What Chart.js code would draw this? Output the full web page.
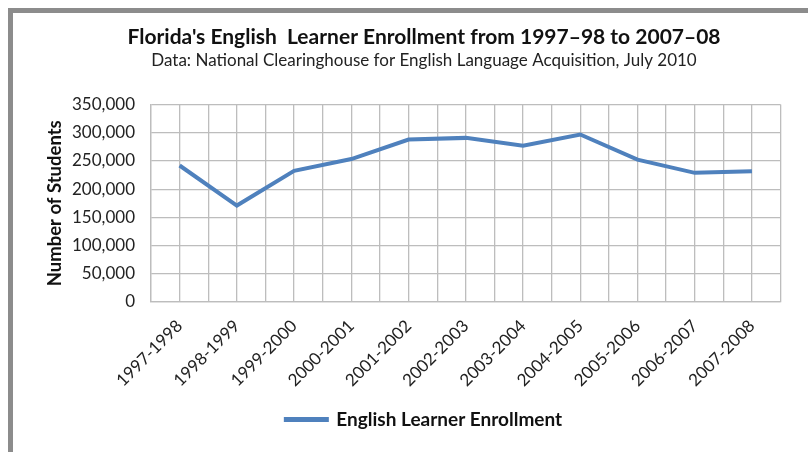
<!DOCTYPE html>
<html>
<head>
<meta charset="utf-8">
<script src="https://cdn.jsdelivr.net/npm/chart.js@4"></script>
<style>
  html, body { margin: 0; padding: 0; background: #fff; }
  #wrap { position: relative; width: 809px; height: 452px; }
  #frame {
    position: absolute; left: 8px; top: 8px; right: 1px; bottom: 0;
    border-top: 5px solid #8c8c8c; border-left: 5px solid #8c8c8c;
  }
  canvas { position: absolute; left: 0; top: 0; }
</style>
</head>
<body>
<div id="wrap">
  <div id="frame"></div>
  <canvas id="elChart" width="809" height="452"></canvas>
</div>
<script>
// school years on the x axis
const anos = ['1997-1998', '1998-1999', '1999-2000', '2000-2001', '2001-2002', '2002-2003',
  '2003-2004', '2004-2005', '2005-2006', '2006-2007', '2007-2008'];
// English learner enrollment
const matriculas = [242000, 171000, 232500, 253500, 288000, 291000, 277000, 297000, 252500, 229000, 232000];
// y axis ticks
const yMax = 350000;
const yPasso = 50000;

const fonte = "Lato, 'Open Sans', sans-serif";
const azul = '#4f81bd';

const pontos = matriculas.map((v, i) => ({ x: i, y: v }));

new Chart(document.getElementById('elChart'), {
  type: 'line',
  data: {
    datasets: [{
      label: 'English Learner Enrollment',
      data: pontos,
      borderColor: azul,
      backgroundColor: azul,
      borderWidth: 4,
      pointRadius: 0,
      tension: 0
    }]
  },
  options: {
    responsive: false,
    animation: false,
    layout: { padding: { top: 0, left: 53, right: 14, bottom: 13 } },
    plugins: {
      title: {
        display: true,
        text: "Florida's English  Learner Enrollment from 1997\u201398 to 2007\u201308",
        color: '#111',
        font: { family: fonte, size: 21, weight: 'bold' },
        padding: { top: 25, bottom: 0 }
      },
      subtitle: {
        display: true,
        text: 'Data: National Clearinghouse for English Language Acquisition, July 2010',
        color: '#222',
        font: { family: fonte, size: 17 },
        padding: { top: 0, bottom: 34 }
      },
      legend: {
        position: 'bottom',
        labels: {
          color: '#111',
          font: { family: fonte, size: 19, weight: 'bold' },
          boxWidth: 41,
          boxHeight: 1,
          padding: 10
        }
      },
      tooltip: { enabled: false }
    },
    scales: {
      x: {
        type: 'linear',
        min: -0.5,
        max: anos.length - 0.5,
        grid: { color: '#bdbdbd', lineWidth: 1.3, drawTicks: false },
        border: { color: '#bdbdbd', width: 1.3 },
        ticks: {
          stepSize: 0.5,
          autoSkip: false,
          maxRotation: 45,
          minRotation: 45,
          padding: 14,
          color: '#222',
          font: { family: fonte, size: 17 },
          callback: function (value) {
            return Number.isInteger(value) ? anos[value] : '';
          }
        },
        afterFit: function (scale) { scale.height = 98; }
      },
      y: {
        min: 0,
        max: yMax,
        grid: { color: '#bdbdbd', lineWidth: 1.3, drawTicks: false },
        border: { color: '#bdbdbd', width: 1.3 },
        ticks: {
          stepSize: yPasso,
          padding: 16,
          color: '#222',
          font: { family: fonte, size: 17 },
          callback: function (value) { return value.toLocaleString('en-US'); }
        },
        title: {
          display: true,
          text: 'Number of Students',
          color: '#111',
          font: { family: fonte, size: 18.5, weight: 'bold' },
          padding: { top: -9, bottom: 0 }
        },
        afterFit: function (scale) { scale.width = 98; }
      }
    }
  }
});
</script>
</body>
</html>
